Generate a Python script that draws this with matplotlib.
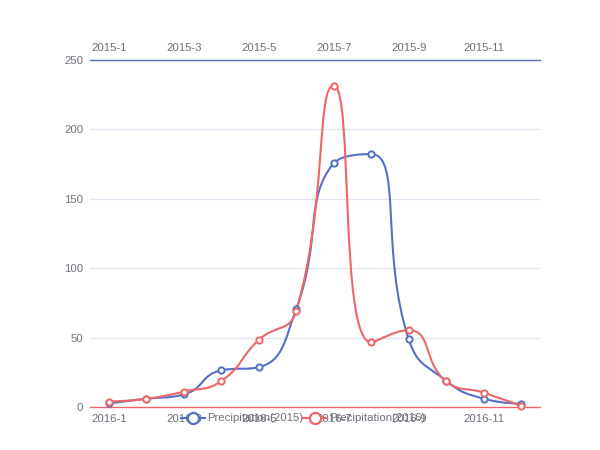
import numpy as np
import matplotlib
matplotlib.use("Agg")
import matplotlib.pyplot as plt
from matplotlib.path import Path
from matplotlib.patches import PathPatch
from matplotlib.lines import Line2D

plt.rcParams['font.family'] = ['Liberation Sans', 'DejaVu Sans']

months_2015 = ['2015-1', '2015-2', '2015-3', '2015-4', '2015-5', '2015-6',
               '2015-7', '2015-8', '2015-9', '2015-10', '2015-11', '2015-12']
months_2016 = ['2016-1', '2016-2', '2016-3', '2016-4', '2016-5', '2016-6',
               '2016-7', '2016-8', '2016-9', '2016-10', '2016-11', '2016-12']
precip_2015 = [2.6, 5.9, 9.0, 26.4, 28.7, 70.7, 175.6, 182.2, 48.7, 18.8, 6.0, 2.3]
precip_2016 = [3.9, 5.9, 11.1, 18.7, 48.3, 69.2, 231.6, 46.6, 55.4, 18.4, 10.3, 0.7]
y_ticks = [0, 50, 100, 150, 200, 250]

blue = '#5470C6'
red = '#EE6666'
text_color = '#6E7079'
grid_color = '#E0E6F1'
fsize = 8.2

fig = plt.figure(figsize=(6, 4.5), dpi=100)
ax = fig.add_axes([0.15, 0.0956, 0.75, 0.7711])
ax.set_xlim(-0.5, 11.5)
ax.set_ylim(0, 250)

# pixel scale used for the echarts-like smoothing
sx = 450 / 12.0
sy = 347 / 250.0


def smooth_path(vals, smooth=0.5):
    # port of the echarts bezier smoothing (with extreme constraint)
    pts = [(i * sx, v * sy) for i, v in enumerate(vals)]
    n = len(pts)
    verts = [pts[0]]
    codes = [Path.MOVETO]
    cp0 = pts[0]
    for k in range(1, n):
        px, py = pts[k - 1]
        x, y = pts[k]
        if k == n - 1:
            cp1 = (x, y)
            nxt = None
        else:
            nx, ny = pts[k + 1]
            vx, vy = nx - px, ny - py
            lp = np.hypot(x - px, y - py)
            ln = np.hypot(nx - x, ny - y)
            r = ln / (ln + lp)
            ncx = x + vx * smooth * r
            ncy = y + vy * smooth * r
            ncx = min(ncx, max(nx, x)); ncy = min(ncy, max(ny, y))
            ncx = max(ncx, min(nx, x)); ncy = max(ncy, min(ny, y))
            vx, vy = ncx - x, ncy - y
            c1x = x - vx * lp / ln
            c1y = y - vy * lp / ln
            c1x = min(c1x, max(px, x)); c1y = min(c1y, max(py, y))
            c1x = max(c1x, min(px, x)); c1y = max(c1y, min(py, y))
            vx, vy = x - c1x, y - c1y
            ncx = x + vx * ln / lp
            ncy = y + vy * ln / lp
            cp1 = (c1x, c1y)
            nxt = (ncx, ncy)
        verts += [cp0, cp1, (x, y)]
        codes += [Path.CURVE4] * 3
        cp0 = nxt
    verts = [(vx_ / sx, vy_ / sy) for vx_, vy_ in verts]
    return Path(verts, codes)


ax.set_yticks(y_ticks)
ax.set_yticklabels([str(t) for t in y_ticks])
ax.tick_params(axis='y', length=0, pad=5, labelsize=fsize, labelcolor=text_color)
for t in y_ticks[1:-1]:
    ax.axhline(t, color=grid_color, lw=1, zorder=0)

for s in ['left', 'right', 'top']:
    ax.spines[s].set_visible(False)
ax.spines['bottom'].set_color(red)
ax.spines['bottom'].set_linewidth(1)

ax.set_xticks(range(0, 12, 2))
ax.set_xticklabels(months_2016[::2])
ax.tick_params(axis='x', length=0, pad=5, labelsize=fsize, labelcolor=text_color)

ax_top = ax.twiny()
ax_top.set_xlim(ax.get_xlim())
ax_top.set_xticks(range(0, 12, 2))
ax_top.set_xticklabels(months_2015[::2])
ax_top.tick_params(axis='x', length=0, pad=5, labelsize=fsize, labelcolor=text_color)
for s in ['left', 'right', 'bottom']:
    ax_top.spines[s].set_visible(False)
ax_top.spines['top'].set_color(blue)
ax_top.spines['top'].set_linewidth(1)

for vals, col in [(precip_2015, blue), (precip_2016, red)]:
    ax.add_patch(PathPatch(smooth_path(vals), fill=False, edgecolor=col,
                           lw=1.5, zorder=3, clip_on=False))
    ax.plot(range(len(vals)), vals, ls='none', marker='o', ms=4.5,
            mfc='white', mec=col, mew=1.4, zorder=4, clip_on=False)

# legend drawn by hand at the bottom
leg_y = 1 - 418 / 450
for x0, col, label in [(181, blue, 'Precipitation(2015)'), (303, red, 'Precipitation(2016)')]:
    fig.add_artist(Line2D([x0 / 600, (x0 + 24) / 600], [leg_y, leg_y], color=col, lw=1.5))
    fig.add_artist(Line2D([(x0 + 12) / 600], [leg_y], marker='o', ms=8, mfc='white',
                          mec=col, mew=1.6, ls='none'))
    fig.text((x0 + 26) / 600, leg_y, label, fontsize=fsize, color=text_color,
             va='center', ha='left')

fig.savefig('out.png', dpi=100, facecolor='white')
